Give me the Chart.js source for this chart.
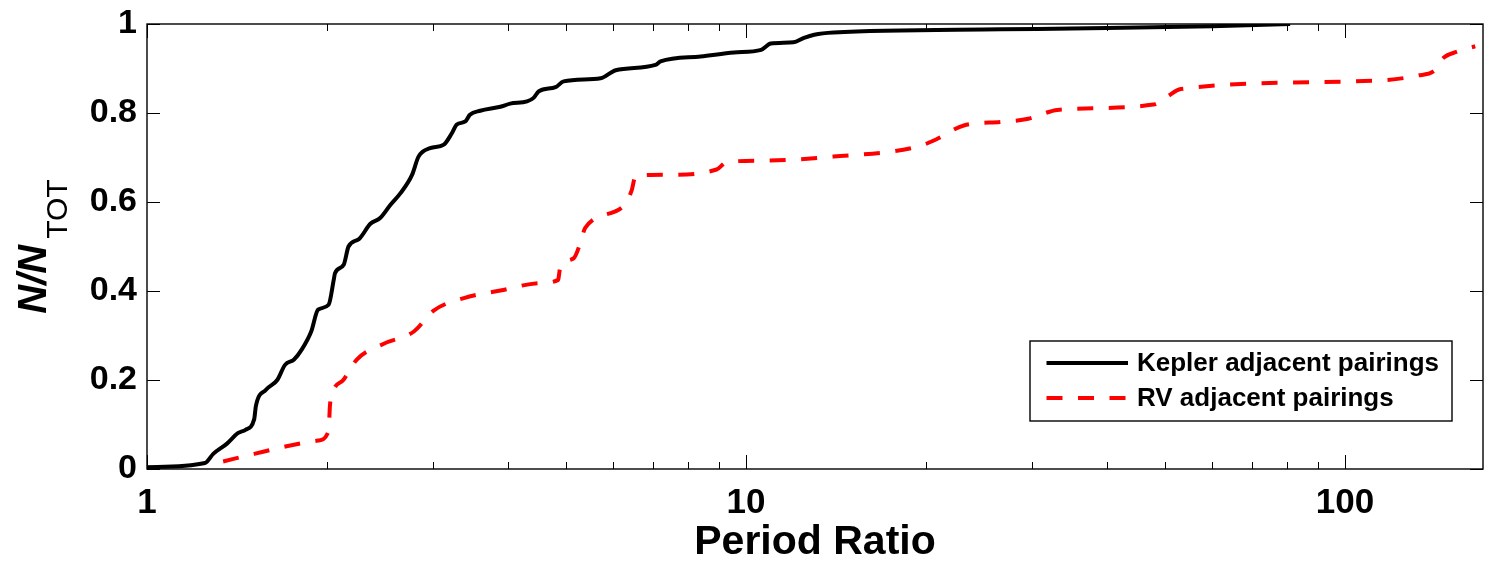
<!DOCTYPE html>
<html lang="en">
<head>
<meta charset="UTF-8" />
<title>Period Ratio CDF</title>
<script src="https://cdn.jsdelivr.net/npm/chart.js"></script>
<style>
  html, body { margin: 0; padding: 0; background: #fff; }
  canvas { display: block; }
</style>
</head>
<body>
<canvas id="cdf" width="1493" height="563"></canvas>
<script>
  // cumulative fractions
  const keplerRatio = [1.0, 1.25, 1.29, 1.36, 1.42, 1.46, 1.51, 1.52, 1.58, 1.65, 1.70, 1.76, 1.81, 1.88, 1.93, 2.01, 2.05, 2.06, 2.13, 2.17, 2.26, 2.36, 2.45, 2.55, 2.65, 2.77, 2.84, 2.97, 3.13, 3.23, 3.29, 3.40, 3.46, 3.60, 3.89, 4.04, 4.31, 4.42, 4.51, 4.81, 4.96, 5.72, 6.06, 7.06, 7.20, 8.40, 9.55, 10.6, 11.0, 12.0, 12.5, 13.0, 14.0, 26.7, 40, 60, 81];
  const keplerFrac  = [0.004, 0.0135, 0.034, 0.057, 0.081, 0.088, 0.112, 0.142, 0.178, 0.2, 0.234, 0.246, 0.267, 0.309, 0.358, 0.369, 0.425, 0.44, 0.459, 0.50, 0.517, 0.551, 0.564, 0.594, 0.62, 0.661, 0.702, 0.721, 0.729, 0.755, 0.774, 0.781, 0.796, 0.805, 0.814, 0.821, 0.826, 0.834, 0.849, 0.858, 0.871, 0.878, 0.896, 0.908, 0.916, 0.927, 0.936, 0.942, 0.956, 0.959, 0.969, 0.976, 0.981, 0.988, 0.991, 0.995, 1.0];

  const rvRatio = [1.34, 1.51, 1.71, 1.93, 2.01, 2.02, 2.04, 2.13, 2.24, 2.48, 2.79, 3.01, 3.38, 3.89, 4.54, 4.86, 4.87, 4.90, 5.16, 5.29, 5.39, 6.26, 6.45, 6.54, 7.39, 8.93, 9.29, 10.8, 14.0, 19.3, 20.8, 23.1, 26.7, 29.6, 31.0, 33.1, 47.9, 50.4, 53.2, 103.6, 132, 142, 145, 154, 165];
  const rvFrac  = [0.017, 0.034, 0.051, 0.064, 0.085, 0.141, 0.171, 0.201, 0.246, 0.281, 0.309, 0.356, 0.384, 0.401, 0.418, 0.425, 0.433, 0.455, 0.474, 0.508, 0.542, 0.592, 0.628, 0.659, 0.661, 0.673, 0.690, 0.693, 0.702, 0.724, 0.741, 0.772, 0.780, 0.787, 0.796, 0.807, 0.819, 0.836, 0.854, 0.871, 0.884, 0.899, 0.920, 0.938, 0.950];

  const xMajor = [1, 10, 100];
  const xMinor = [2, 3, 4, 5, 6, 7, 8, 9, 20, 30, 40, 50, 60, 70, 80, 90];
  const yTicks = [0, 0.2, 0.4, 0.6, 0.8, 1];
  const seriesNames = ['Kepler adjacent pairings', 'RV adjacent pairings'];

  const FONT = "'Liberation Sans', Arial, Helvetica, sans-serif";

  function toPoints(xs, ys) {
    return xs.map((x, i) => ({ x: x, y: ys[i] }));
  }

  // matlab style box: inward ticks on all four sides, y label with subscript, legend inside
  const matlabAxes = {
    id: 'matlabAxes',
    afterDatasetsDraw(chart) {
      const ctx = chart.ctx;
      const a = chart.chartArea;
      const xs = chart.scales.x, ys = chart.scales.y;
      ctx.save();
      ctx.strokeStyle = '#000';
      ctx.lineWidth = 1;
      ctx.beginPath();
      xMajor.concat(xMinor).forEach(v => {
        const px = Math.round(xs.getPixelForValue(v)) + 0.5;
        const len = xMajor.includes(v) ? 14 : 7;
        ctx.moveTo(px, a.bottom); ctx.lineTo(px, a.bottom - len);
        ctx.moveTo(px, a.top); ctx.lineTo(px, a.top + len);
      });
      yTicks.forEach(v => {
        const py = Math.round(ys.getPixelForValue(v)) + 0.5;
        ctx.moveTo(a.left, py); ctx.lineTo(a.left + 13, py);
        ctx.moveTo(a.right, py); ctx.lineTo(a.right - 13, py);
      });
      ctx.stroke();
      ctx.lineWidth = 1.4;
      ctx.strokeRect(a.left, a.top, a.right - a.left, a.bottom - a.top);

      // y axis title  N/N_TOT
      ctx.fillStyle = '#000';
      ctx.translate(0, (a.top + a.bottom) / 2);
      ctx.rotate(-Math.PI / 2);
      ctx.textBaseline = 'alphabetic';
      ctx.textAlign = 'left';
      ctx.font = 'italic bold 40px ' + FONT;
      const w1 = ctx.measureText('N/N').width;
      ctx.font = '30px ' + FONT;
      const w2 = ctx.measureText('TOT').width;
      const start = -(w1 + w2 + 6) / 2;
      ctx.font = 'italic bold 40px ' + FONT;
      ctx.fillText('N/N', start, 46);
      ctx.font = '30px ' + FONT;
      ctx.fillText('TOT', start + w1 + 6, 67);
      ctx.restore();

      // legend
      ctx.save();
      const lx = 1030, ly = 341, lw = 422, lh = 80;
      ctx.fillStyle = '#fff';
      ctx.fillRect(lx, ly, lw, lh);
      ctx.strokeStyle = '#000';
      ctx.lineWidth = 1.4;
      ctx.strokeRect(lx, ly, lw, lh);
      const rows = [363, 398];
      chart.data.datasets.forEach((ds, i) => {
        ctx.beginPath();
        ctx.strokeStyle = ds.borderColor;
        ctx.lineWidth = ds.borderWidth;
        ctx.setLineDash(ds.borderDash || []);
        ctx.moveTo(1046.5, rows[i]);
        ctx.lineTo(1128, rows[i]);
        ctx.stroke();
        ctx.setLineDash([]);
        ctx.fillStyle = '#000';
        ctx.font = 'bold 26px ' + FONT;
        ctx.textBaseline = 'middle';
        ctx.fillText(ds.label, 1137, rows[i] + 1);
      });
      ctx.restore();
    }
  };

  new Chart(document.getElementById('cdf').getContext('2d'), {
    type: 'scatter',
    data: {
      datasets: [
        {
          label: seriesNames[0],
          data: toPoints(keplerRatio, keplerFrac),
          showLine: true,
          borderColor: '#000000',
          borderWidth: 4,
          pointRadius: 0,
          cubicInterpolationMode: 'monotone'
        },
        {
          label: seriesNames[1],
          data: toPoints(rvRatio, rvFrac),
          showLine: true,
          borderColor: '#ff0000',
          borderWidth: 4,
          borderDash: [16, 15.5],
          borderCapStyle: 'butt',
          pointRadius: 0,
          cubicInterpolationMode: 'monotone'
        }
      ]
    },
    options: {
      responsive: false,
      animation: false,
      layout: { padding: { top: 24, right: 10, left: 0, bottom: 0 } },
      plugins: {
        legend: { display: false },
        tooltip: { enabled: false }
      },
      scales: {
        x: {
          type: 'logarithmic',
          min: 1,
          max: 170,
          grid: { display: false, drawTicks: false },
          border: { display: false },
          afterBuildTicks: (scale) => {
            scale.ticks = xMajor.concat(xMinor).sort((p, q) => p - q).map(v => ({ value: v, major: xMajor.includes(v) }));
          },
          afterFit: (scale) => { scale.height = 94; scale.paddingLeft = 0; scale.paddingRight = 0; },
          ticks: {
            autoSkip: false,
            maxRotation: 0,
            padding: 13,
            color: '#000',
            font: { family: FONT, size: 35, weight: 'bold' },
            callback: (v) => xMajor.includes(v) ? String(v) : ''
          },
          title: {
            display: true,
            text: 'Period Ratio',
            color: '#000',
            font: { family: FONT, size: 41, weight: 'bold' },
            padding: { top: 0, bottom: -4 }
          }
        },
        y: {
          min: 0,
          max: 1,
          grid: { display: false, drawTicks: false },
          border: { display: false },
          afterBuildTicks: (scale) => {
            scale.ticks = yTicks.map(v => ({ value: v }));
          },
          afterFit: (scale) => { scale.width = 147; scale.paddingTop = 0; scale.paddingBottom = 0; },
          ticks: {
            padding: 10,
            color: '#000',
            font: { family: FONT, size: 34, weight: 'bold' },
            callback: (v) => String(v)
          }
        }
      }
    },
    plugins: [matlabAxes]
  });
</script>
</body>
</html>
